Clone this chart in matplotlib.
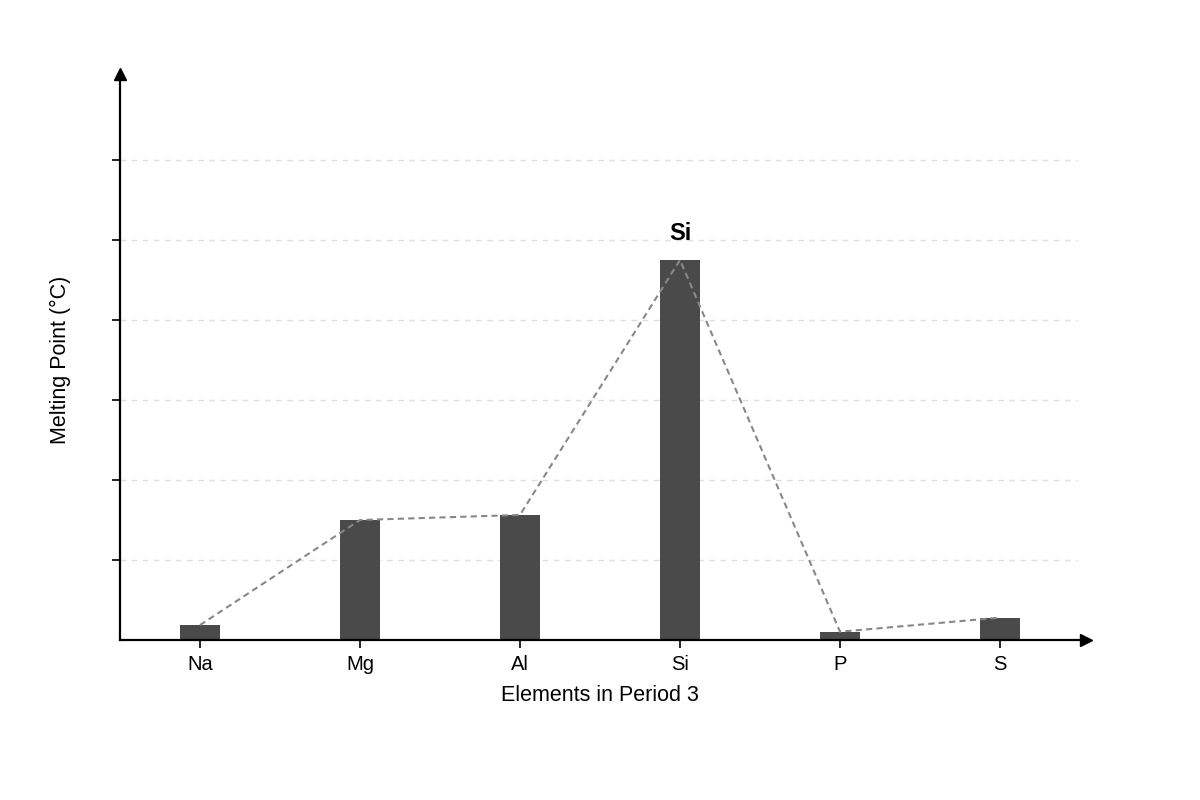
"""Melting points across period 3 — bar chart with a dashed trend line."""
import matplotlib
matplotlib.use("Agg")
import matplotlib.pyplot as plt

plt.rcParams["font.family"] = ["Liberation Sans", "DejaVu Sans"]

# --- data (y ticks carry no labels) -------------------------------------------------------
elements = ["Na", "Mg", "Al", "Si", "P", "S"]
melting = [56, 450, 469, 1425, 31, 84]
grid_ticks = [300, 600, 900, 1200, 1500, 1800]
peak = "Si"

BAR = "#4a4a4a"
LINE = "#888888"

fig = plt.figure(figsize=(12, 8), dpi=100)
ax = fig.add_axes([0.1, 0.2, 0.8, 0.7])

x = list(range(len(elements)))
ax.bar(x, melting, width=0.25, color=BAR, zorder=2)
ax.plot(x, melting, color=LINE, lw=1.5, ls=(0, (3, 2)), zorder=3)

# label the peak element above its bar
i = elements.index(peak)
ax.annotate(peak, (x[i], melting[i]), xytext=(0, 11), textcoords="offset points",
            ha="center", va="bottom", fontsize=17, fontweight="bold")

ax.set_xlim(-0.5, 5.5)
ax.set_ylim(0, 2100)
ax.set_xticks(x, elements, fontsize=14.5)
ax.set_yticks(grid_ticks, [""] * len(grid_ticks))
ax.tick_params(axis="both", length=6, width=1.2, color="black")
ax.tick_params(axis="x", pad=4.5)

# light dashed gridlines stopping short of the arrow
for t in grid_ticks:
    ax.plot([-0.5, 5.48], [t, t], color="#dddddd", lw=1, ls=(0, (4, 4)), zorder=1)

for side in ["top", "right"]:
    ax.spines[side].set_visible(False)
for side in ["left", "bottom"]:
    ax.spines[side].set_linewidth(1.6)

# arrow heads on the axes
ax.plot(1.006, 0, marker=">", ms=9, color="black", transform=ax.transAxes, clip_on=False)
ax.plot(0, 1.0105, marker="^", ms=9, color="black", transform=ax.transAxes, clip_on=False)

ax.set_xlabel("Elements in Period 3", fontsize=15.5, labelpad=8)
ax.set_ylabel("Melting Point (°C)", fontsize=15.5, labelpad=25.5)

fig.savefig("out.png", dpi=100)
